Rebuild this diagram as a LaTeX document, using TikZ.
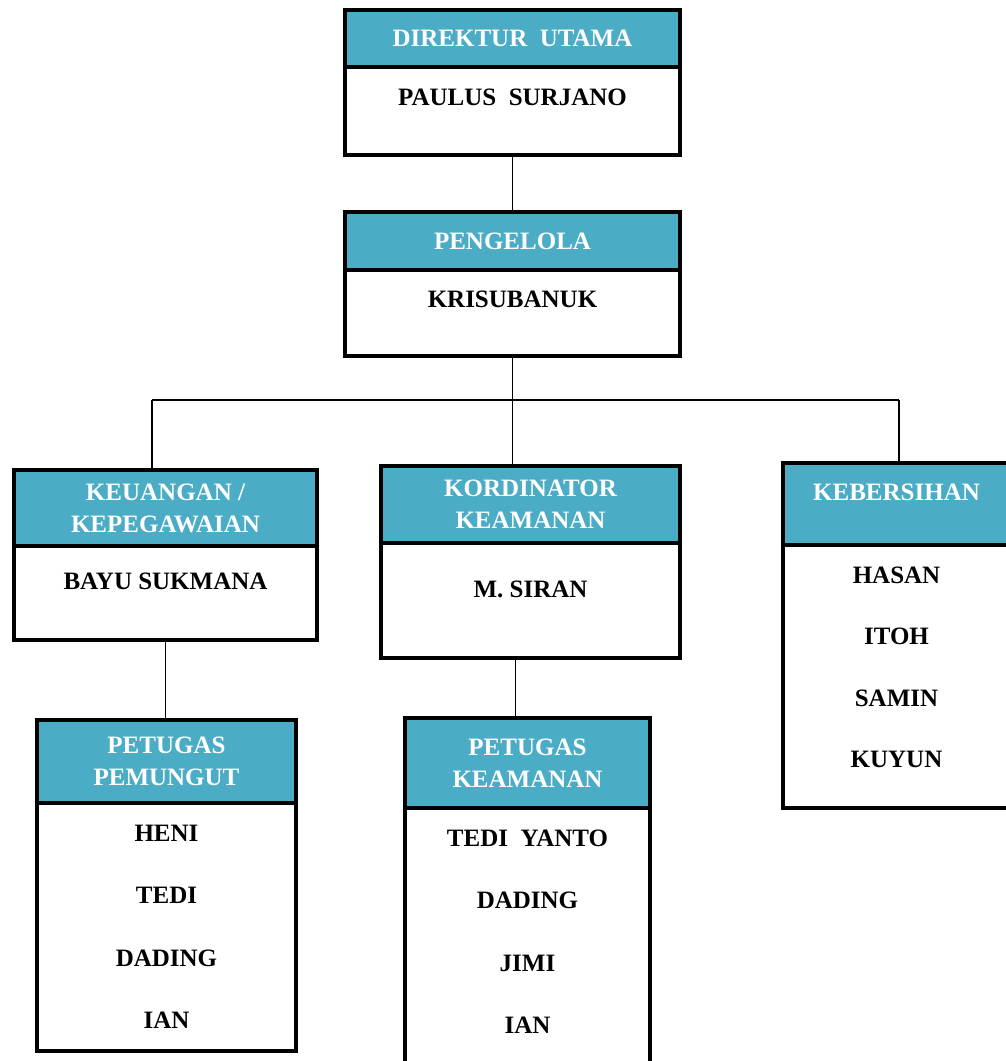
\documentclass[tikz,border=0pt]{standalone}
\usepackage{fontspec}
\setmainfont{Liberation Serif}
\usepackage{tikz}
\usetikzlibrary{positioning}
\definecolor{headblue}{HTML}{4BACC6}

\begin{document}
\begin{tikzpicture}[x=1pt,y=-1pt,
	head/.style={draw,line width=4pt,fill=headblue,text=white,inner sep=0pt,outer sep=0pt,anchor=north west,
		align=center,font=\bfseries\fontsize{25}{32}\selectfont},
	body/.style={draw,line width=4pt,fill=white,inner sep=0pt,outer sep=0pt,anchor=north},
	member/.style={inner sep=0pt,text height=17pt,text depth=0pt,font=\bfseries\fontsize{25}{32}\selectfont},
	link/.style={line width=1.3pt}]
\useasboundingbox (0,0) rectangle (1006,1061);

% direktur dan pengelola
\node [head,minimum width=335,minimum height=57] (dirH) at (345,10) {DIREKTUR\ \ UTAMA};
\node [body,minimum width=335,minimum height=88] (dirB) at (dirH.south) {};
\node [member] (dirN) at ([yshift=-30pt]dirB.north) {PAULUS\ \ SURJANO};

\node [head,minimum width=335,minimum height=58] (pengH) at (345,212) {PENGELOLA};
\node [body,minimum width=335,minimum height=86] (pengB) at (pengH.south) {};
\node [member] (pengN) at ([yshift=-29pt]pengB.north) {KRISUBANUK};

% bagian
\node [head,minimum width=303,minimum height=76] (keuH) at (14,470) {KEUANGAN /\\KEPEGAWAIAN};
\node [body,minimum width=303,minimum height=94] (keuB) at (keuH.south) {};
\node [member] (keuN) at ([yshift=-35pt]keuB.north) {BAYU SUKMANA};

\node [head,minimum width=299,minimum height=77] (korH) at (381,466) {KORDINATOR\\KEAMANAN};
\node [body,minimum width=299,minimum height=115] (korB) at (korH.south) {};
\node [member] (korN) at ([yshift=-46pt]korB.north) {M. SIRAN};

\node [head,minimum width=227,minimum height=82,text depth=24pt] (kebH) at (783,463) {KEBERSIHAN};
\node [body,minimum width=227,minimum height=263] (kebB) at (kebH.south) {};
\node [member] (keb1) at ([yshift=-30pt]kebB.north) {HASAN};
\node [member,below=44pt of keb1] (keb2) {ITOH};
\node [member,below=44pt of keb2] (keb3) {SAMIN};
\node [member,below=44pt of keb3] (keb4) {KUYUN};

% petugas
\node [head,minimum width=259,minimum height=83] (pemH) at (37,720) {PETUGAS\\PEMUNGUT};
\node [body,minimum width=259,minimum height=248] (pemB) at (pemH.south) {};
\node [member] (pem1) at ([yshift=-30pt]pemB.north) {HENI};
\node [member,below=45pt of pem1] (pem2) {TEDI};
\node [member,below=45pt of pem2] (pem3) {DADING};
\node [member,below=45pt of pem3] (pem4) {IAN};

\node [head,minimum width=245,minimum height=90] (kamH) at (405,718) {PETUGAS\\KEAMANAN};
\node [body,minimum width=245,minimum height=270] (kamB) at (kamH.south) {};
\node [member] (kam1) at ([yshift=-30pt]kamB.north) {TEDI\ \ YANTO};
\node [member,below=45pt of kam1] (kam2) {DADING};
\node [member,below=45pt of kam2] (kam3) {JIMI};
\node [member,below=45pt of kam3] (kam4) {IAN};

% garis
\coordinate (busL) at (152,400);
\coordinate (busR) at (899,400);
\draw [link] (dirB.south) -- (pengH.north);
\draw [link] (pengB.south) -- (pengB.south |- busL);
\draw [link] (busL) -- (busR);
\draw [link] (busL) -- (busL |- keuH.north);
\draw [link] (pengB.south |- busL) -- (pengB.south |- korH.north);
\draw [link] (busR) -- (busR |- kebH.north);
\draw [link] (keuB.south) -- (keuB.south |- pemH.north);
\draw [link] ([xshift=-15pt]korB.south) -- ([xshift=-15pt]korB.south |- kamH.north);
\end{tikzpicture}
\end{document}
